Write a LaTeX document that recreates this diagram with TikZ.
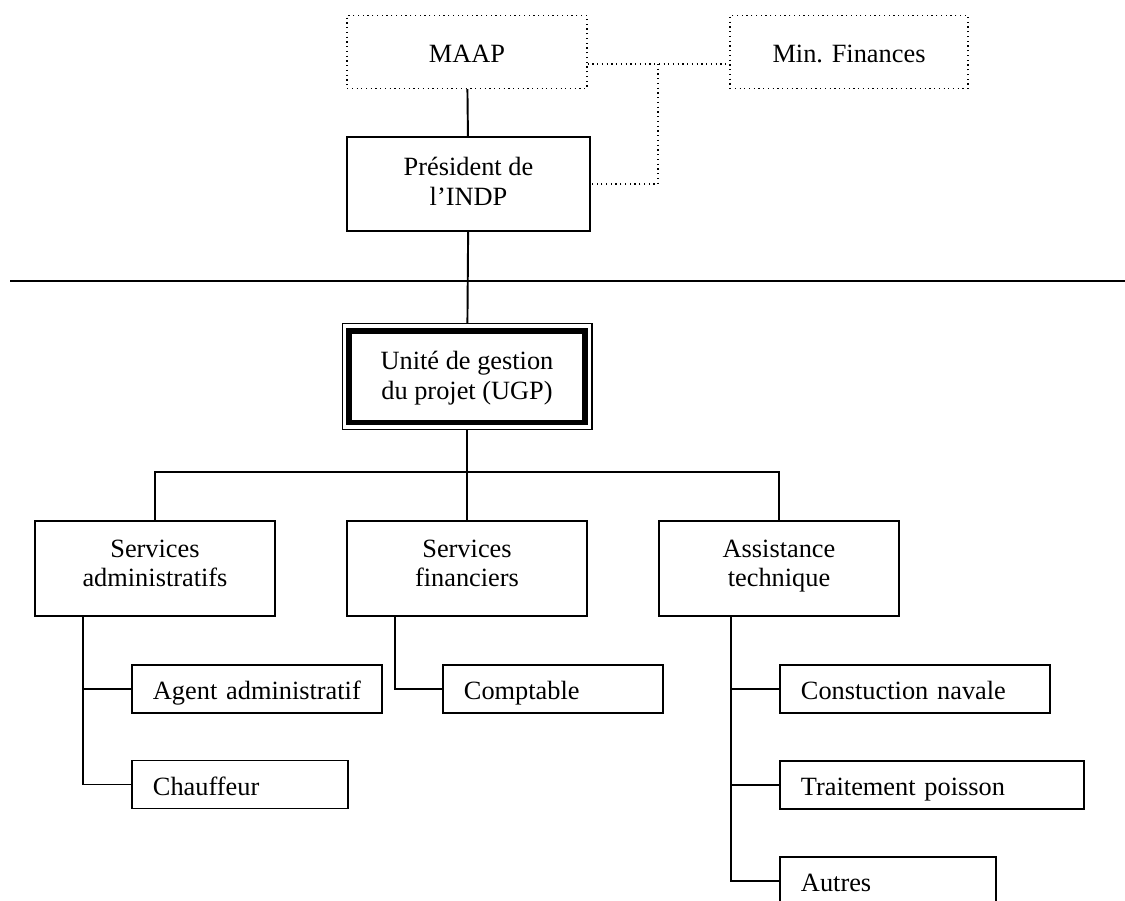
\documentclass[tikz,border=0pt]{standalone}
\usepackage{fontspec}
\setmainfont{Liberation Serif}
\usepackage{tikz}
\usetikzlibrary{positioning}

\begin{document}
\begin{tikzpicture}[x=0.02cm,y=-0.02cm,
            every node/.style={font=\fontsize{15}{17}\selectfont},
            box/.style={draw,rectangle,line width=1.1pt,minimum width=4.8cm,minimum height=1.9cm,align=center,inner sep=0pt,text height=27pt,text depth=6pt},
            dotbox/.style={draw,rectangle,dotted,line width=0.7pt,minimum width=4.8cm,minimum height=1.46cm,inner sep=0pt,text height=14pt,text depth=1.5pt},
            sub/.style={draw,rectangle,line width=1.1pt,anchor=west,minimum height=0.96cm,inner xsep=0.42cm,inner ysep=0pt,align=left,text width=#1,text height=14pt,text depth=2pt},
            link/.style={draw,line width=1.1pt},
            dotlink/.style={draw,dotted,line width=0.7pt}
          ]
          \useasboundingbox (0,0) rectangle (1125,900);

          %tutelle
          \node[dotbox] (maap) at (467,52) {MAAP};
          \node[dotbox,minimum width=4.76cm] (fin) at (849,52) {Min. Finances};
          \node[box,minimum width=4.86cm,minimum height=1.88cm,text height=28pt,text depth=4pt] (pres) at (468.5,184) {Président de\\l’INDP};

          %separation
          \coordinate (ruleL) at (10,281);
          \coordinate (ruleR) at (1125,281);
          \draw[link] (ruleL) -- (ruleR);

          %UGP
          \node[draw,rectangle,line width=0.6pt,minimum width=5cm,minimum height=2.12cm] (ugpframe) at (467,376.5) {};
          \node[draw,rectangle,line width=3.4pt,minimum width=4.74cm,minimum height=1.84cm,align=center,inner sep=0pt,text height=29pt,text depth=2.5pt] (ugp) at (467,376.5) {Unité de gestion\\du projet (UGP)};

          %services
          \node[box] (sa) at (155,568.5) {Services\\administratifs};
          \node[box] (sf) at (467,568.5) {Services\\financiers};
          \node[box] (at) at (779,568.5) {Assistance\\technique};

          %postes
          \node[sub=4.16cm] (agent) at (131,689) {Agent administratif};
          \node[sub=3.48cm] (chauf) at (131,784.5) {Chauffeur};
          \node[sub=3.56cm] (compt) at (442,689) {Comptable};
          \node[sub=4.56cm] (cons) at (779,689) {Constuction navale};
          \node[sub=5.24cm] (trait) at (779,785) {Traitement poisson};
          \node[sub=3.48cm] (autres) at (779,881) {Autres};

          %liens
          \coordinate (fork) at (658,64);
          \draw[dotlink] (maap.east |- fork) -- (fin.west |- fork);
          \draw[dotlink] (fork) |- (pres.east);
          \draw[link] (maap) -- (pres);
          \draw[link] (pres) -- (ugpframe);

          \coordinate (hub) at (467,472);
          \draw[link] (ugpframe) -- (hub);
          \draw[link] (sa.north) |- (hub) -| (at.north);
          \draw[link] (hub) -- (sf);

          \coordinate (saTrunk) at (83,616);
          \coordinate (sfTrunk) at (395,616);
          \coordinate (atTrunk) at (731,616);
          \draw[link] (saTrunk) |- (agent.west);
          \draw[link] (saTrunk) |- (chauf.west);
          \draw[link] (sfTrunk) |- (compt.west);
          \draw[link] (atTrunk) |- (cons.west);
          \draw[link] (atTrunk) |- (trait.west);
          \draw[link] (atTrunk) |- (autres.west);
      \end{tikzpicture}
\end{document}
